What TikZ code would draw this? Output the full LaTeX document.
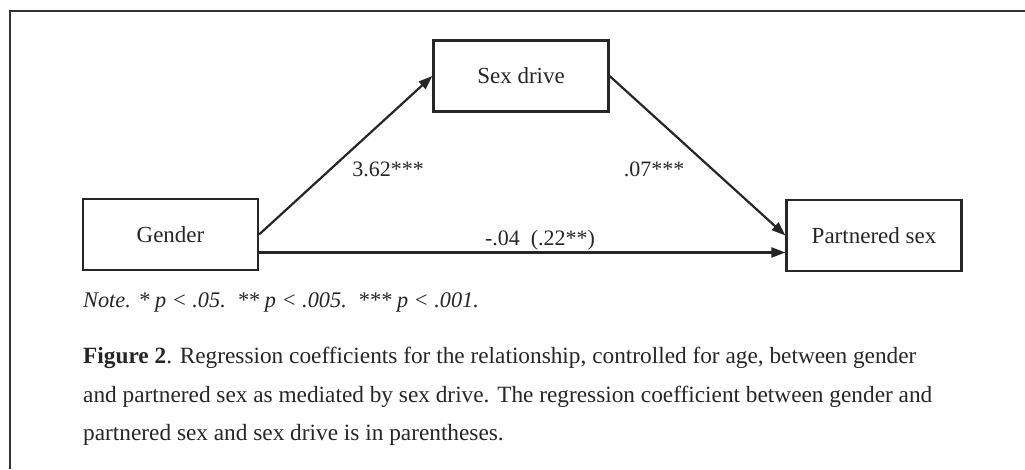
\documentclass[tikz,border=0pt]{standalone}
\usepackage{fontspec}
\setmainfont{Liberation Serif}
\usetikzlibrary{arrows.meta,positioning}

\begin{document}
\begin{tikzpicture}[x=1pt,y=-1pt,
          var/.style={draw=black!85,line width=2.2pt,minimum width=175pt,minimum height=71pt,inner sep=0pt,text=black!85,font=\fontsize{23}{27}\selectfont},
          path/.style={draw=black!85,line width=2.2pt,-{Triangle[length=14pt,width=10pt]}},
          coef/.style={anchor=base,inner sep=0pt,text=black!85,font=\fontsize{22}{26}\selectfont},
          capline/.style={anchor=base west,inner sep=0pt,text=black!85,font=\fontsize{23.3}{27}\selectfont}]
          \useasboundingbox (0,0) rectangle (1025,469);
          \draw[line width=2pt,black!80] (1025,11) -- (10,11) -- (10,469);
          \node[var] (gender) at (170.5,234.5) {Gender};
          \node[var] (drive) at (521,76) {Sex drive};
          \node[var] (partner) at (874,235.5) {Partnered sex};
          \draw[path] (gender.east) -- (drive.west);
          \draw[path] (drive.east) -- (partner.west);
          \draw[path] ([yshift=-18pt]gender.east) -- ([yshift=-18pt]gender.east -| partner.west);
          \node[coef] (a) at (388,176) {3.62***};
          \node[coef] (b) at (654,176) {.07***};
          \node[coef] (c) at (540,245) {-.04\ \ (.22**)};
          \node[capline,font=\fontsize{22.3}{26}\selectfont] (note) at (83,307) {\itshape Note. * p < .05.\ \ ** p < .005.\ \ *** p < .001.};
          \node[capline] (cap1) at (83,363) {\textbf{Figure 2}. Regression coefficients for the relationship, controlled for age, between gender};
          \node[capline] (cap2) at (83,402) {and partnered sex as mediated by sex drive. The regression coefficient between gender and};
          \node[capline] (cap3) at (83,440) {partnered sex and sex drive is in parentheses.};
        \end{tikzpicture}
\end{document}
